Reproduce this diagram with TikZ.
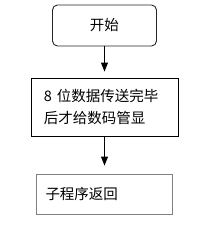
\documentclass[tikz,border=0pt]{standalone}
\usepackage{fontspec}
\setmainfont{Noto Sans CJK SC}
\usetikzlibrary{arrows.meta}
\begin{document}
\begin{tikzpicture}[x=1pt,y=1pt,
  box/.style={draw, line width=0.9pt, inner ysep=0pt, font=\fontsize{14.5}{22}\selectfont},
  arr/.style={draw, line width=0.9pt, -{Triangle[length=9pt,width=7pt]}, shorten >=6pt}]
\useasboundingbox[fill=white] (0,0) rectangle (213,-226);
\node[box, rounded corners=5pt, draw=black!85, minimum width=104pt, minimum height=41pt] (start) at (104.5,-25.5) {开始};
\node[box, minimum width=147pt, minimum height=58pt, text width=121pt, inner xsep=13pt, align=left] (send) at (104.5,-107) {8 位数据传送完毕\\后才给数码管显};
\node[box, draw=black!50, minimum width=136pt, minimum height=40pt, text width=118pt, inner xsep=9pt, align=left] (ret) at (104.5,-194) {子程序返回};
\draw[arr] (start.south) -- (send.north);
\draw[arr, shorten >=8pt] (send.south) -- (ret.north);
\end{tikzpicture}
\end{document}
